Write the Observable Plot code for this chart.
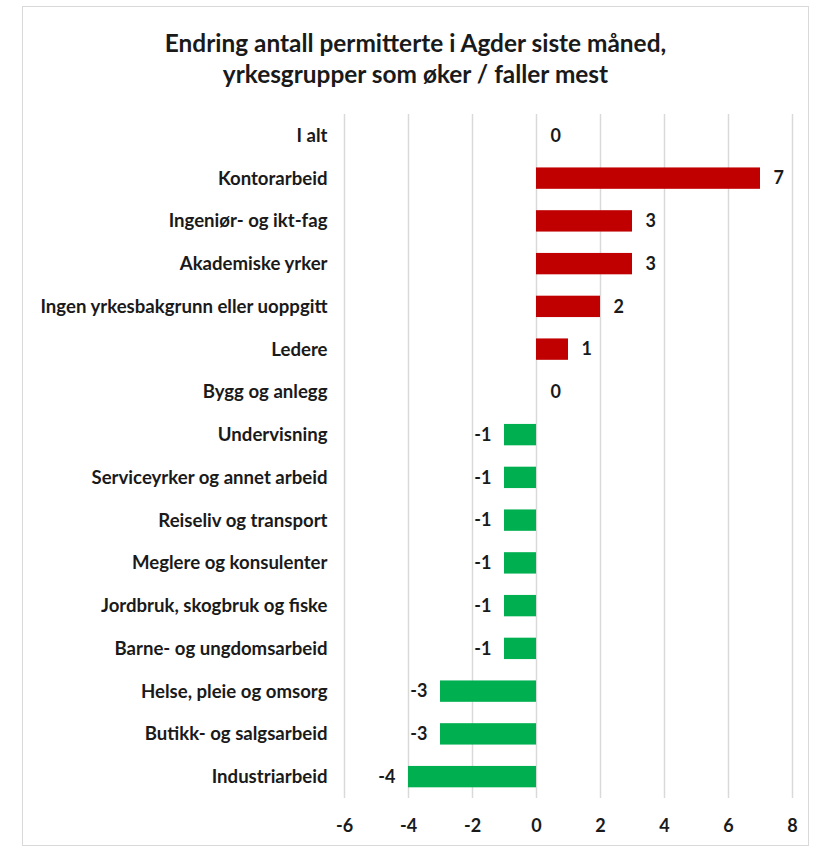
<!DOCTYPE html>
<html>
<head>
<meta charset="utf-8">
<script src="https://cdn.jsdelivr.net/npm/d3@7"></script>
<script src="https://cdn.jsdelivr.net/npm/@observablehq/plot@0.6"></script>
<style>
  html, body { margin: 0; padding: 0; background: #fff; }
  body { width: 823px; height: 848px; position: relative; overflow: hidden; font-family: Lato, "Open Sans", sans-serif; }
  #frame { position: absolute; left: 22px; top: 6px; width: 787px; height: 840px; border: 1.5px solid #d9d9d9; box-sizing: border-box; }
  #title { position: absolute; left: 22px; width: 787px; top: 27px; text-align: center; font-size: 24.4px; font-weight: 700; line-height: 31px; color: #1a1a1a; }
  #chart { position: absolute; left: 0; top: 100px; }
</style>
</head>
<body>
<div id="frame"></div>
<div id="title">Endring antall permitterte i Agder siste måned,<br>yrkesgrupper som øker / faller mest</div>
<div id="chart"></div>
<script>
const categories = ["I alt","Kontorarbeid","Ingeniør- og ikt-fag","Akademiske yrker","Ingen yrkesbakgrunn eller uoppgitt","Ledere","Bygg og anlegg","Undervisning","Serviceyrker og annet arbeid","Reiseliv og transport","Meglere og konsulenter","Jordbruk, skogbruk og fiske","Barne- og ungdomsarbeid","Helse, pleie og omsorg","Butikk- og salgsarbeid","Industriarbeid"];
const values = [0,7,3,3,2,1,0,-1,-1,-1,-1,-1,-1,-3,-3,-4];
const xTicks = [-6,-4,-2,0,2,4,6,8];

const data = categories.map((c, i) => ({category: c, value: values[i]}));
const pos = data.filter(d => d.value > 0);
const neg = data.filter(d => d.value < 0);
const zero = data.filter(d => d.value === 0);

const plot = Plot.plot({
  width: 823,
  height: 745,
  marginLeft: 344,
  marginRight: 31,
  marginTop: 14,
  marginBottom: 47,
  style: {fontFamily: "Lato, 'Open Sans', sans-serif", fontWeight: 700, color: "#1a1a1a", background: "transparent"},
  x: {domain: [-6, 8], ticks: xTicks, label: null},
  y: {domain: categories, paddingInner: 0.5, paddingOuter: 0.25, round: false, label: null},
  marks: [
    Plot.ruleX(xTicks, {stroke: "#d9d9d9", strokeWidth: 1.5, strokeOpacity: 1}),
    Plot.barX(data.filter(d => d.value !== 0), {x: "value", y: "category", fill: d => d.value > 0 ? "#C00000" : "#00B050"}),
    Plot.text(pos, {x: "value", y: "category", text: d => String(d.value), textAnchor: "start", dx: 13, fontSize: 18, fontWeight: 700, fill: "#1a1a1a"}),
    Plot.text(zero, {x: "value", y: "category", text: d => String(d.value), textAnchor: "start", dx: 14, fontSize: 18, fontWeight: 700, fill: "#1a1a1a"}),
    Plot.text(neg, {x: "value", y: "category", text: d => String(d.value), textAnchor: "end", dx: -13, fontSize: 18, fontWeight: 700, fill: "#1a1a1a"}),
    Plot.axisX({ticks: xTicks, tickSize: 0, tickPadding: 21, fontSize: 18, fontWeight: 700, label: null, tickFormat: d => String(d)}),
    Plot.axisY({tickSize: 0, tickPadding: 17, fontSize: 18.6, fontWeight: 700, label: null})
  ]
});
document.getElementById("chart").appendChild(plot);
</script>
</body>
</html>
